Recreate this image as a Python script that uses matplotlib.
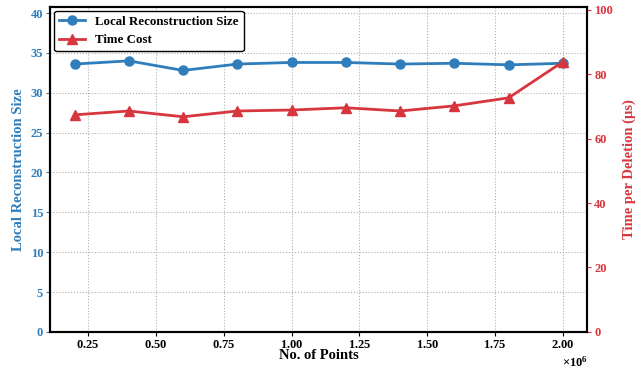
import matplotlib
matplotlib.use("Agg")
import matplotlib.pyplot as plt
from matplotlib.ticker import ScalarFormatter

plt.rcParams['font.family'] = ['Liberation Serif', 'DejaVu Serif']
plt.rcParams['font.weight'] = 'bold'
plt.rcParams['mathtext.fontset'] = 'custom'
plt.rcParams['mathtext.rm'] = 'Liberation Serif:bold'

points = [200000, 400000, 600000, 800000, 1000000, 1200000, 1400000, 1600000, 1800000, 2000000]
recon_size = [33.6, 34.0, 32.8, 33.6, 33.8, 33.8, 33.6, 33.7, 33.5, 33.7]
time_cost = [67.4, 68.6, 66.8, 68.6, 68.9, 69.6, 68.6, 70.2, 72.7, 83.9]

blue = '#2f7dbb'
red = '#d8363e'

fig, ax = plt.subplots(figsize=(6.35, 3.7), dpi=100)
ax2 = ax.twinx()

l1, = ax.plot(points, recon_size, color=blue, marker='o', lw=2, ms=6.5,
              label='Local Reconstruction Size')
l2, = ax2.plot(points, time_cost, color=red, marker='^', lw=2, ms=6.5,
               label='Time Cost')

ax.set_ylim(0, 40.8)
ax2.set_ylim(0, 101)
ax.set_yticks(range(0, 41, 5))
ax2.set_yticks(range(0, 101, 20))

fmt = ScalarFormatter(useMathText=True)
fmt.set_powerlimits((0, 0))
ax.xaxis.set_major_formatter(fmt)

ax.grid(True, ls=':', color='#b0b0b0', lw=0.8)

ax.set_xlabel('No. of Points', fontsize=10.5, fontweight='bold', labelpad=-1)
ax.set_ylabel('Local Reconstruction Size', fontsize=10.5, fontweight='bold',
              color=blue, labelpad=4)
ax2.set_ylabel('Time per Deletion (\u03bcs)', fontsize=10.5, fontweight='bold',
               color=red, labelpad=7)

ax.tick_params(axis='y', colors=blue, labelsize=9, length=3, pad=2)
ax.tick_params(axis='x', labelsize=9, length=3, pad=2)
ax2.tick_params(axis='y', colors=red, labelsize=9, length=3, pad=2)
for s in ax.spines.values():
    s.set_linewidth(1.5)
for s in ax2.spines.values():
    s.set_linewidth(1.5)
ax.xaxis.get_offset_text().set_fontsize(9)

leg = ax.legend(handles=[l1, l2], loc='upper left', fontsize=9.3,
                edgecolor='black', fancybox=True, framealpha=1,
                borderaxespad=0.3)
leg.get_frame().set_linewidth(1.0)

fig.subplots_adjust(left=0.079, right=0.925, top=0.982, bottom=0.103)
fig.savefig('out.png', dpi=100)
